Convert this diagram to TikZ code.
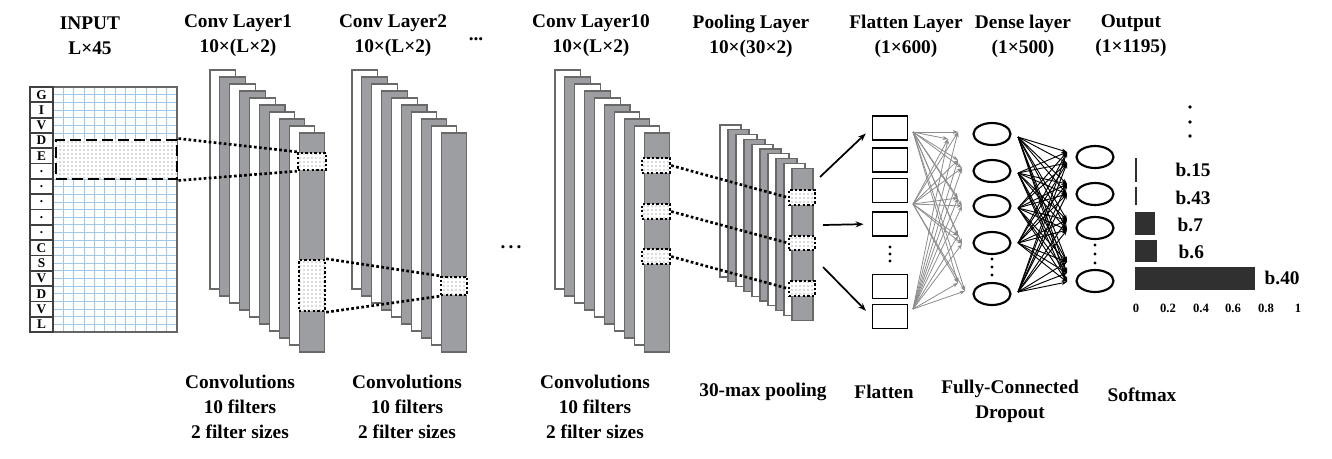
\documentclass[tikz,border=0pt]{standalone}
\usepackage{fontspec}
\setmainfont{Liberation Serif}
\usetikzlibrary{patterns,fit,shapes.geometric,arrows.meta}
\definecolor{slicegrey}{RGB}{156,158,161}
\definecolor{sliceline}{RGB}{105,105,105}
\definecolor{gridblue}{RGB}{160,200,232}
\definecolor{bardark}{RGB}{48,48,48}
\newcommand\pd{.}

\begin{document}
\begin{tikzpicture}[x=0.75pt,y=0.75pt,yscale=-1,xscale=1,
	hdr/.style={font=\fontsize{14.5}{18.75}\selectfont\bfseries, align=center},
	slice/.style={draw=sliceline, line width=0.8pt},
	letterbox/.style={draw=black!75, line width=1.3pt, minimum width=17.25pt, minimum height=11.5pt, inner sep=0, font=\fontsize{10}{10}\selectfont\bfseries},
	gridline/.style={draw=gridblue, line width=0.5pt},
	selbox/.style={draw, line width=2.2pt, dash pattern=on 8pt off 4pt, preaction={fill=white}, pattern=dots, pattern color=black!60, inner sep=0},
	dotbox/.style={draw, line width=1.8pt, dash pattern=on 1.8pt off 1.6pt, preaction={fill=white}, pattern=dots, pattern color=black!60, inner sep=0},
	dotline/.style={line width=2pt, dash pattern=on 2pt off 1.8pt},
	fbox/.style={draw, line width=1.4pt, minimum width=26.25pt, minimum height=18pt, inner sep=0},
	neuron/.style={ellipse, draw, line width=1.6pt, minimum width=27.75pt, minimum height=16.5pt, inner sep=0},
	garrow/.style={draw=black!45, line width=0.6pt, -{Stealth[length=4pt,width=3pt]}},
	barrow/.style={draw=black, line width=0.7pt, -{Stealth[length=4pt,width=3pt]}},
	parrow/.style={line width=1.3pt, -{Stealth[length=6pt,width=4.5pt]}, shorten >=6pt},
	ticklbl/.style={font=\fontsize{9.5}{10}\selectfont\bfseries},
	]
	\useasboundingbox (0,0) rectangle (1332,458);

	% input matrix
	\foreach \k in {1,...,11} \draw[gridline] (53+10.333*\k,87) -- (53+10.333*\k,332);
	\foreach \k in {1,...,31} \draw[gridline] (53,87+7.656*\k) -- (177,87+7.656*\k);
	\draw[draw=black!60, line width=0.9pt] (53,87) rectangle (177,332);
	\foreach \c [count=\n from 0] in {G,I,V,D,E,\pd,\pd,\pd,\pd,\pd,C,S,V,D,V,L}
		\node[letterbox] (let\n) at (41.5,94.66+15.3125*\n) {\c};
	\node[selbox, fit={(56,140) (177,179)}] (inbox) {};

	% conv layers 1, 2, 10
	\foreach \lx in {210,352,555}
		\foreach \i/\col in {0/white,1/slicegrey,2/white,3/slicegrey,4/white,5/slicegrey,6/white,7/slicegrey,8/white,9/slicegrey}
			\draw[slice, fill=\col] (\lx+9.9*\i,70+7*\i) rectangle ++(25.5,219);

	% pooling layer
	\foreach \i/\col in {0/white,1/slicegrey,2/white,3/slicegrey,4/white,5/slicegrey,6/white,7/slicegrey,8/white,9/slicegrey}
		\draw[slice, fill=\col] (720+8*\i,125+4.8*\i) rectangle ++(21,152);

	% receptive fields
	\node[dotbox, fit={(298,153) (326,170)}] (c1a) {};
	\node[dotbox, fit={(299,260) (325,311)}] (c1b) {};
	\node[dotbox, fit={(441,277) (467,295)}] (c2a) {};
	\node[dotbox, fit={(642,158) (670,173)}] (c10a) {};
	\node[dotbox, fit={(642,204) (670,219)}] (c10b) {};
	\node[dotbox, fit={(642,249) (670,264)}] (c10c) {};
	\node[dotbox, fit={(789,190) (815,205)}] (pa) {};
	\node[dotbox, fit={(789,236) (815,250)}] (pb) {};
	\node[dotbox, fit={(789,281) (815,296)}] (pc) {};

	\draw[dotline] (inbox.north east) -- (c1a.north west);
	\draw[dotline] (inbox.south east) -- (c1a.south west);
	\draw[dotline] (c1b.north east) -- (c2a.north west);
	\draw[dotline] (c1b.south east) -- (c2a.south west);
	\draw[dotline] (c10a.east) -- (pa.west);
	\draw[dotline] (c10b.east) -- (pb.west);
	\draw[dotline] (c10c.east) -- (pc.west);

	% flatten layer
	\foreach \y [count=\n] in {128,160,190.5,224,286.5,316.5}
		\node[fbox] (flat\n) at (890,\y) {};
	\foreach \y in {247,254,261} \fill (890,\y) circle (1.6);

	\coordinate (pt1) at (820,177);
	\coordinate (pt2) at (823,225);
	\coordinate (pt3) at (823,267);
	\draw[parrow] (pt1) -- (flat1.west);
	\draw[parrow] (pt2) -- (flat4.west);
	\draw[parrow] (pt3) -- (flat6.west);

	% dense and output units
	\foreach \y [count=\n] in {134,171,206,243,294}
		\node[neuron] (den\n) at (992,\y) {};
	\foreach \y in {259,267,275} \fill (992,\y) circle (1.6);
	\foreach \y [count=\n] in {157,194,228,281}
		\node[neuron] (out\n) at (1095,\y) {};
	\foreach \y in {245,254,263} \fill (1095,\y) circle (1.6);

	\coordinate (fs1) at (913,132);
	\coordinate (fs2) at (913,204);
	\coordinate (fs3) at (913,309);
	\foreach \x/\y [count=\n] in {958/132,948/139,958/160,962/168,958/198,962/206,958/236,962/244,958/283,965/291}
		\coordinate (ft\n) at (\x,\y);
	\foreach \s in {1,2,3}
		\foreach \t in {1,...,10}
			\draw[garrow] (fs\s) -- (ft\t);

	\foreach \y [count=\n] in {137,173,208,243,292}
		\coordinate (ds\n) at (1018,\y);
	\foreach \y [count=\n] in {152,163,184,194,220,230,262,273,282}
		\coordinate (ot\n) at (1067,\y);
	\foreach \s in {1,...,5}
		\foreach \t in {1,...,9}
			\draw[barrow] (ds\s) -- (ot\t);

	% softmax bars
	\foreach \y in {107,122,136} \fill (1190,\y) circle (1.8);
	\fill[bardark] (1135.3,158) rectangle (1137,182);
	\fill[bardark] (1135.3,187) rectangle (1137,205);
	\fill[bardark] (1135,212) rectangle (1155,235);
	\fill[bardark] (1135,240) rectangle (1157,262);
	\fill[bardark] (1135,267) rectangle (1255,290);
	\node[hdr, anchor=west] (lb15) at (1171,170) {b.15};
	\node[hdr, anchor=west] (lb43) at (1171,198) {b.43};
	\node[hdr, anchor=west] (lb7) at (1173,225) {b.7};
	\node[hdr, anchor=west] (lb6) at (1174,252) {b.6};
	\node[hdr, anchor=west] (lb40) at (1260,278) {b.40};
	\foreach \v/\x [count=\n] in {0/1136,0.2/1168,0.4/1201,0.6/1233,0.8/1266,1/1298}
		\node[ticklbl] (tk\n) at (\x,308) {\v};

	% titles
	\node[hdr] (hin) at (90,36) {INPUT\\L×45};
	\node[hdr] (hc1) at (238,36) {Conv Layer1\\10×(L×2)};
	\node[hdr] (hc2) at (393,36) {Conv Layer2\\10×(L×2)};
	\node[hdr] (hdots) at (476,39) {...};
	\node[hdr] (hc10) at (591,36) {Conv Layer10\\10×(L×2)};
	\node[hdr] (hpool) at (751,36) {Pooling Layer\\10×(30×2)};
	\node[hdr] (hflat) at (906,36) {Flatten Layer\\(1×600)};
	\node[hdr] (hdense) at (1023,36) {Dense layer\\(1×500)};
	\node[hdr] (hout) at (1131,36) {Output\\(1×1195)};
	\node[hdr] (mdots) at (511,247) {.\,.\,.};

	\node[hdr] (bc1) at (240,407) {Convolutions\\10 filters\\2 filter sizes};
	\node[hdr] (bc2) at (407,407) {Convolutions\\10 filters\\2 filter sizes};
	\node[hdr] (bc10) at (595,407) {Convolutions\\10 filters\\2 filter sizes};
	\node[hdr] (bpool) at (763,392) {30-max pooling};
	\node[hdr] (bflat) at (884,392) {Flatten};
	\node[hdr] (bfc) at (1010,401) {Fully-Connected\\Dropout};
	\node[hdr] (bsm) at (1142,395) {Softmax};
\end{tikzpicture}
\end{document}
